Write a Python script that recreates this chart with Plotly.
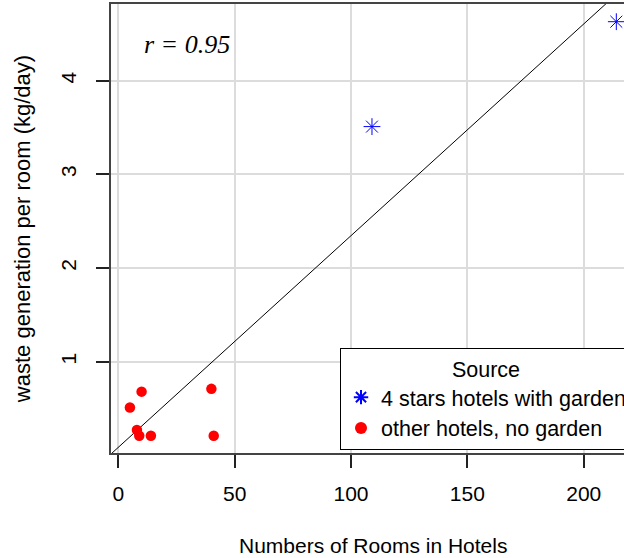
import numpy as np
import plotly.graph_objects as go

# Hotels: number of rooms vs. waste generated per room (kg/day)
garden_rooms = [109, 214]
garden_waste = [3.51, 4.63]
other_rooms = [5, 8, 9, 10, 14, 40, 41]
other_waste = [0.51, 0.27, 0.21, 0.68, 0.21, 0.71, 0.21]

garden_label = "4 stars hotels with garden"
other_label = "other hotels, no garden"
legend_title = "Source"
x_title = "Numbers of Rooms in Hotels"
y_title = "waste generation per room (kg/day)"

x_ticks = [0, 50, 100, 150, 200]
y_ticks = [1, 2, 3, 4]

x_range = [-3.14, 217.3]
y_range = [0.025, 4.819]

# Least-squares fit over all hotels (abline in the original)
all_rooms = np.array(garden_rooms + other_rooms, dtype=float)
all_waste = np.array(garden_waste + other_waste, dtype=float)
slope, intercept = np.polyfit(all_rooms, all_waste, 1)
r_value = np.corrcoef(all_rooms, all_waste)[0, 1]

SANS = "Liberation Sans, Arial, sans-serif"
SERIF = "Liberation Serif, Times New Roman, serif"

fig = go.Figure()

line_x = np.array([x_range[0] - 20, x_range[1] + 20])
fig.add_trace(
    go.Scatter(
        x=line_x,
        y=intercept + slope * line_x,
        mode="lines",
        line=dict(color="black", width=1),
        showlegend=False,
        hoverinfo="skip",
    )
)

fig.add_trace(
    go.Scatter(
        x=garden_rooms,
        y=garden_waste,
        mode="markers",
        name=garden_label,
        marker=dict(symbol="asterisk-open", size=14, color="#0000ff", line=dict(color="#0000ff", width=1)),
        cliponaxis=False,
    )
)
fig.add_trace(
    go.Scatter(
        x=other_rooms,
        y=other_waste,
        mode="markers",
        name=other_label,
        marker=dict(symbol="circle", size=10.5, color="#ff0000"),
    )
)

# white box behind the r label, hiding the grid like the original legend box
fig.add_shape(
    type="rect",
    xref="paper",
    yref="paper",
    x0=0.0214,
    x1=0.2963,
    y0=0.8018,
    y1=1.0,
    line=dict(width=0),
    fillcolor="white",
    layer="between",
)
fig.add_annotation(
    text=f"<i>r = {r_value:.2f}</i>",
    xref="paper",
    yref="paper",
    x=0.1481,
    y=0.9109,
    xanchor="center",
    yanchor="middle",
    showarrow=False,
    font=dict(family=SERIF, size=26, color="black"),
)

fig.add_annotation(
    text=x_title,
    xref="paper",
    yref="paper",
    x=0.5107,
    y=-0.2049,
    xanchor="center",
    yanchor="middle",
    showarrow=False,
    font=dict(family=SANS, size=21, color="black"),
)

axis_common = dict(
    showgrid=True,
    gridcolor="#dcdcdc",
    gridwidth=1.5,
    zeroline=False,
    showline=True,
    linecolor="#444444",
    linewidth=1.5,
    mirror=True,
    ticks="outside",
    ticklen=13,
    tickcolor="#222222",
    tickwidth=1.5,
    tickfont=dict(family=SANS, size=21, color="black"),
)

fig.update_xaxes(
    range=x_range,
    tickvals=x_ticks,
    ticklabelstandoff=8,
    **axis_common,
)
fig.update_yaxes(
    range=y_range,
    tickvals=y_ticks,
    tickangle=-90,
    ticklabelstandoff=12,
    title=dict(text=y_title, font=dict(family=SANS, size=22, color="black"), standoff=20),
    **axis_common,
)

fig.update_layout(
    width=624,
    height=558,
    margin=dict(l=111, r=0, t=4, b=105, autoexpand=False),
    paper_bgcolor="white",
    plot_bgcolor="white",
    font=dict(family=SANS, size=21, color="black"),
    legend=dict(
        x=0.4464,
        y=0.2345,
        xanchor="left",
        yanchor="top",
        bgcolor="white",
        bordercolor="black",
        borderwidth=1,
        title=dict(text=legend_title, side="top center", font=dict(family=SANS, size=21.5)),
        font=dict(family=SANS, size=21.5, color="black"),
        itemsizing="constant",
    ),
)

# drop the browser's default body margin so the figure fills the window exactly
fig.write_html(
    "out.html",
    config={"displayModeBar": False},
    post_script="document.body.style.margin='0';document.body.style.overflow='hidden';",
)
